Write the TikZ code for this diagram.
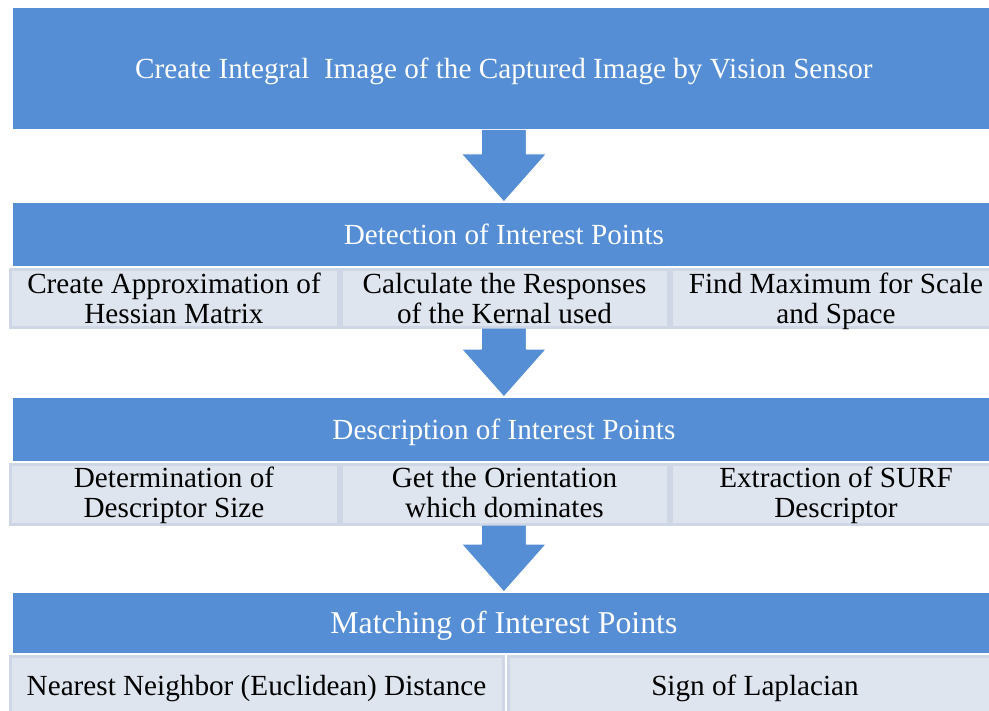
\documentclass[tikz,border=0pt]{standalone}
\usepackage{fontspec}
\setmainfont{Liberation Serif}
\usetikzlibrary{calc}
\definecolor{hdrblue}{RGB}{85,142,213}
\definecolor{subfill}{RGB}{223,229,238}
\definecolor{subedge}{RGB}{207,214,229}
% second line of a two-line box, with a fixed depth
\newcommand{\lastline}[2][0bp]{\smash{#2}\rule[-#1]{0pt}{0pt}}

\begin{document}
\begin{tikzpicture}[x=1bp,y=-1bp,
  header/.style={fill=hdrblue, draw=white, line width=0.8bp, text=white,
    font=\fontsize{29.3}{31}\selectfont, inner sep=0, anchor=north west,
    text height=19.4bp, text depth=0bp, minimum width=983bp},
  subbox/.style={fill=subfill, draw=subedge, line width=3bp, text=black,
    font=\fontsize{29.3}{30}\selectfont, align=center, inner sep=0,
    anchor=north west},
  blockarrow/.style={fill=hdrblue, draw=white, line width=1bp, line join=round}]
\useasboundingbox (0,0) rectangle (989,711);

% stage 1
\node[header, minimum height=122bp] (h1) at (12,7)
  {Create Integral\ \ Image of the Captured Image by Vision Sensor};

% stage 2: detection
\node[header, minimum height=64bp] (h2) at (12,202) {Detection of Interest Points};
\node[subbox, minimum width=328bp, minimum height=58bp] (d1) at (8.5,267.5)
  {Create Approximation of\\\lastline{Hessian Matrix}};
\node[subbox, minimum width=327bp, minimum height=58bp] (d2) at (339.5,267.5)
  {Calculate the Responses\\\lastline{of the Kernal used}};
\node[subbox, minimum width=330bp, minimum height=58bp] (d3) at (669.5,267.5)
  {Find Maximum for Scale\\\lastline{and Space}};

% stage 3: description
\node[header, minimum height=64bp] (h3) at (12,397) {Description of Interest Points};
\node[subbox, minimum width=328bp, minimum height=60bp] (e1) at (8.5,462.5)
  {Determination of\\\lastline[4bp]{Descriptor Size}};
\node[subbox, minimum width=327bp, minimum height=60bp] (e2) at (339.5,462.5)
  {Get the Orientation\\\lastline[4bp]{which dominates}};
\node[subbox, minimum width=330bp, minimum height=60bp] (e3) at (669.5,462.5)
  {Extraction of SURF\\\lastline[4bp]{Descriptor}};

% stage 4: matching
\node[header, minimum height=61bp, font=\fontsize{31.9}{34}\selectfont,
  text height=21.1bp] (h4) at (12,592) {Matching of Interest Points};
\node[subbox, minimum width=493bp, minimum height=59bp, text height=19.4bp,
  text depth=0bp] (m1) at (8.5,654.5) {Nearest Neighbor (Euclidean) Distance};
\node[subbox, minimum width=494bp, minimum height=59bp, text height=19.4bp,
  text depth=0bp] (m2) at (506.5,654.5) {Sign of Laplacian};

% block arrows between the stages
\coordinate (t1) at (h1.south);
\coordinate (p1) at (h2.north);
\coordinate (t2) at (d2.south -| h3.north);
\coordinate (p2) at (h3.north);
\coordinate (t3) at (e2.south -| h4.north);
\coordinate (p3) at (h4.north);
\foreach \t/\p in {t1/p1, t2/p2, t3/p3}{
  \draw[blockarrow] ($(\t)+(-22.5,0)$) -- ($(\p)+(-22.5,-48)$)
    -- ($(\p)+(-42.5,-48)$) -- (\p) -- ($(\p)+(42.5,-48)$)
    -- ($(\p)+(22.5,-48)$) -- ($(\t)+(22.5,0)$);
}
\end{tikzpicture}
\end{document}
